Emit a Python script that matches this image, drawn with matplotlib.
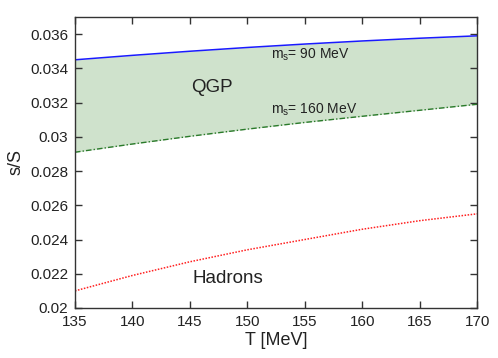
import numpy as np
import matplotlib
matplotlib.use("Agg")
import matplotlib.pyplot as plt

plt.rcParams['font.family'] = ['Liberation Sans', 'DejaVu Sans']

T = [135, 140, 145, 150, 155, 160, 165, 170]
qgp_ms90 = [0.03450, 0.03476, 0.03500, 0.03522, 0.03542, 0.03560, 0.03576, 0.03590]
qgp_ms160 = [0.02910, 0.02958, 0.03003, 0.03045, 0.03084, 0.03120, 0.03155, 0.03190]
hadrons = [0.02100, 0.02190, 0.02270, 0.02340, 0.02400, 0.02460, 0.02510, 0.02550]

xticks = [135, 140, 145, 150, 155, 160, 165, 170]
yticks = [0.02, 0.022, 0.024, 0.026, 0.028, 0.03, 0.032, 0.034, 0.036]
ytick_labels = ["0.02", "0.022", "0.024", "0.026", "0.028", "0.03", "0.032", "0.034", "0.036"]

fig = plt.figure(figsize=(4.98, 3.58), dpi=100)
ax = fig.add_axes([0.1506, 0.1397, 0.8074, 0.8128])

ax.fill_between(T, qgp_ms160, qgp_ms90, color="#cfe2cc", lw=0)
ax.plot(T, qgp_ms90, color="#1a1aff", lw=1.1)
ax.plot(T, qgp_ms160, color="#2a7a2a", lw=1.0, ls=(0, (4, 1.5, 1, 1.5)))
ax.plot(T, hadrons, color="#ff2020", lw=1.1, ls=(0, (1, 1)))

ax.text(146.9, 0.03286, "QGP", fontsize=13.5, ha="center", va="center", color="#222222")
ax.text(148.3, 0.02175, "Hadrons", fontsize=13.5, ha="center", va="center", color="#222222")
ax.text(152.1, 0.03479, r"m$_\mathregular{s}$= 90 MeV", fontsize=10, ha="left", va="center", color="#222222")
ax.text(152.1, 0.03158, r"m$_\mathregular{s}$= 160 MeV", fontsize=10, ha="left", va="center", color="#222222")

ax.set_xlim(135, 170)
ax.set_ylim(0.02, 0.037)
ax.set_xticks(xticks)
ax.set_yticks(yticks)
ax.set_yticklabels(ytick_labels)
ax.tick_params(direction="in", top=True, right=True, length=5, width=1,
               labelsize=11, colors="#333333", labelcolor="#222222", pad=5)
for sp in ax.spines.values():
    sp.set_color("#333333")
    sp.set_linewidth(1.0)

ax.set_xlabel("T [MeV]", fontsize=13, color="#222222", labelpad=2)
ax.set_ylabel("s/S", fontsize=13, color="#222222", labelpad=4)

fig.savefig("out.png", dpi=100)
